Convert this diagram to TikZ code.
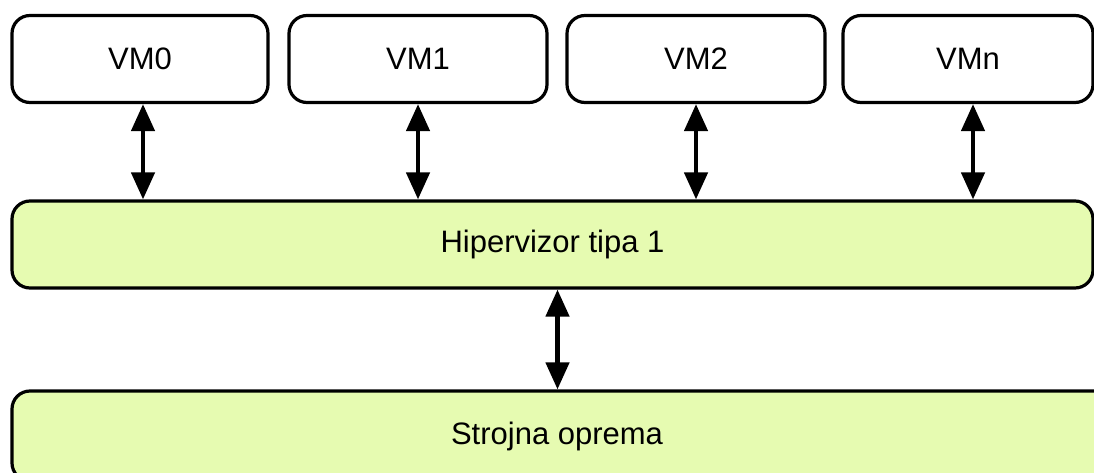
\documentclass[tikz,border=0pt]{standalone}
\usepackage{fontspec}
\setmainfont{Liberation Sans}
\usetikzlibrary{arrows.meta}
\definecolor{boxgreen}{HTML}{E6FBB1}
\tikzset{
  vmbox/.style={draw=black, line width=3.2pt, rounded corners=18pt, fill=white,
    minimum height=87pt, inner sep=0pt, font=\fontsize{31}{36}\selectfont},
  layerbox/.style={draw=black, line width=3.2pt, rounded corners=18pt, fill=boxgreen,
    inner sep=0pt, font=\fontsize{31}{36}\selectfont},
  biarrow/.style={line width=4.5pt, {Triangle[length=27pt,width=23pt]}-{Triangle[length=27pt,width=23pt]}}
}
\begin{document}
\begin{tikzpicture}[x=1pt,y=1pt]
\useasboundingbox (0,0) rectangle (1094,-473);
\node[vmbox, minimum width=256pt] (vm0) at (140,-59) {VM0};
\node[vmbox, minimum width=258pt] (vm1) at (418,-59) {VM1};
\node[vmbox, minimum width=258pt] (vm2) at (696,-59) {VM2};
\node[vmbox, minimum width=250pt] (vmn) at (968,-59) {VMn};
\node[layerbox, minimum width=1081pt, minimum height=87pt] (hyp) at (552.5,-244.5) {Hipervizor tipa 1};
\node[layerbox, minimum width=1100pt, minimum height=90pt] (hw) at (562,-436) {\hspace*{-10pt}Strojna oprema};
\draw[biarrow] ([xshift=3pt]vm0.south) -- ([xshift=3pt]vm0.south |- hyp.north);
\draw[biarrow] (vm1.south) -- (vm1.south |- hyp.north);
\draw[biarrow] (vm2.south) -- (vm2.south |- hyp.north);
\draw[biarrow] ([xshift=5pt]vmn.south) -- ([xshift=5pt]vmn.south |- hyp.north);
\draw[biarrow] ([xshift=5pt]hyp.south) -- ([xshift=5pt]hyp.south |- hw.north);
\end{tikzpicture}
\end{document}
